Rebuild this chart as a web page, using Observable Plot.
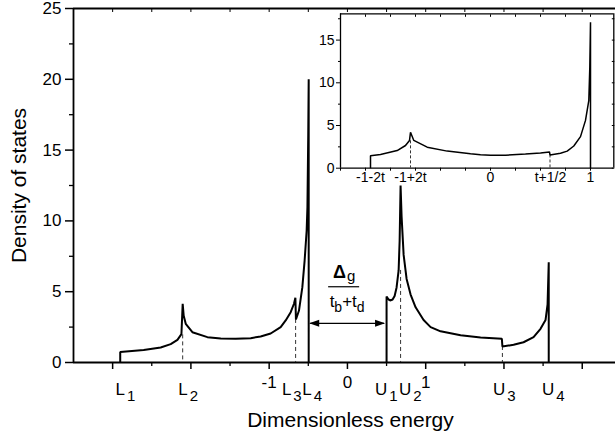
<!DOCTYPE html>
<html><head><meta charset="utf-8">
<script src="https://cdn.jsdelivr.net/npm/d3@7"></script>
<script src="https://cdn.jsdelivr.net/npm/@observablehq/plot@0.6"></script>
<style>
html,body{margin:0;padding:0;background:#fff;}
#wrap{position:relative;width:615px;height:439px;overflow:hidden;background:#fff;}
#inset{position:absolute;left:300px;top:0;}
svg{display:block;}
</style></head><body>
<div id="wrap"><div id="main"></div><div id="inset"></div></div>
<script>
const FONT = "'Liberation Sans', Arial, Helvetica, sans-serif";

// ---- main density of states (dimensionless energy, DOS) ----
const lowerBand = [[-2.903,0],[-2.903,0.75],[-2.603,0.88],[-2.386,1.06],[-2.258,1.3],[-2.172,1.6],[-2.121,2.0],[-2.105,4.15],[-2.092,3.3],[-2.066,2.73],[-1.981,2.14],[-1.789,1.79],[-1.619,1.7],[-1.428,1.67],[-1.236,1.72],[-1.109,1.84],[-0.981,2.05],[-0.853,2.5],[-0.789,2.97],[-0.725,3.55],[-0.683,4.15],[-0.665,4.57],[-0.658,3.04],[-0.619,3.67],[-0.576,5.32],[-0.547,7.2],[-0.521,9.32],[-0.511,11],[-0.501,16],[-0.495,20],[-0.495,0]];
const upperBand = [[0.5,0],[0.5,4.66],[0.526,4.45],[0.552,4.38],[0.577,4.45],[0.603,4.7],[0.628,5.3],[0.654,6.5],[0.667,8.6],[0.679,12.5],[0.692,10.3],[0.718,7.6],[0.756,5.9],[0.807,4.8],[0.871,3.9],[0.973,3.0],[1.063,2.5],[1.19,2.2],[1.446,1.92],[1.701,1.76],[1.973,1.68],[1.98,1.13],[2.123,1.25],[2.25,1.43],[2.378,1.79],[2.467,2.38],[2.531,3.0],[2.557,4.1],[2.572,7.08],[2.572,0]];
const mainDashes = [[-2.105,1.95],[-0.662,3.04],[0.679,6.5],[1.98,1.13]];

// band-edge labels
const bandEdgeX = [-2.903,-2.105,-0.665,-0.495,0.5,0.679,1.976,2.572];
const bandEdgeLetter = ["L","L","L","L","U","U","U","U"];
const bandEdgeIndex = ["1","2","3","4","1","2","3","4"];

// ticks
const xMajorTicks = [-3,-2,-1,0,1,2,3];
const xMinorTicks = [-2.5,-1.5,-0.5,0.5,1.5,2.5];
const xNumberTicks = [-1,0,1];
const yMajorTicks = [0,5,10,15,20,25];
const yMinorTicks = [2.5,7.5,12.5,17.5,22.5];
const xDomain = [-3.5, 3.425];
const yDomain = [0, 25];

// gap annotation
const gapArrowY = 2.73;

// ---- inset ----
const insetCurve = [[-1.2,0],[-1.2,1.45],[-1.1,1.6],[-0.933,2.07],[-0.85,2.66],[-0.81,3.25],[-0.8,4.2],[-0.767,3.25],[-0.633,2.46],[-0.433,2.0],[-0.2,1.69],[-0.1,1.58],[0.0,1.52],[0.15,1.53],[0.35,1.65],[0.5,1.78],[0.59,1.9],[0.595,1.55],[0.7,1.75],[0.767,2.0],[0.833,2.6],[0.9,3.7],[0.95,5.6],[0.983,7.9],[0.993,11.8],[1.0,17.1],[1.0,0]];
const insetDashes = [[-0.8,3.2],[0.595,1.55]];
const insetTickLabels = ["-1-2t","-1+2t","0","t+1/2","1"];
const insetTickValues = [-1.2,-0.8,0,0.6,1];
const insetXTicks = [-1.5,-1.25,-1,-0.75,-0.5,-0.25,0,0.25,0.5,0.75,1];
const insetYMajor = [0,5,10,15];
const insetYMinor = [2.5,7.5,12.5,17.5];
const insetXDomain = [-1.5, 1.233];
const insetYDomain = [0, 18.08];

const labelShift = [-4.3,-4,-13,-6,-11,-1,-8.7,-6.3];

function bandLabels(index, scales, values, dims) {
  const g = d3.create("svg:g").attr("font-family", FONT).attr("fill", "black").attr("text-anchor", "start");
  const base = dims.height - dims.marginBottom;
  bandEdgeX.forEach((x, i) => {
    const t = g.append("text").attr("x", scales.x(x) + labelShift[i]).attr("y", base + 33).attr("font-size", 17).attr("text-anchor", "start");
    t.append("tspan").text(bandEdgeLetter[i]);
    t.append("tspan").attr("font-size", 15).attr("dx", 2).attr("dy", 6).text(bandEdgeIndex[i]);
  });
  return g.node();
}

function gapAnnotation(index, scales, values, dims) {
  const g = d3.create("svg:g").attr("font-family", FONT).attr("fill", "black");
  const x1 = scales.x(bandEdgeX[3]), x2 = scales.x(bandEdgeX[4]);
  const y = scales.y(gapArrowY);
  const mid = (x1 + x2) / 2;
  g.append("line").attr("x1", x1 + 2).attr("x2", x2 - 2).attr("y1", y).attr("y2", y).attr("stroke", "black").attr("stroke-width", 1.3);
  g.append("path").attr("d", `M${x1 + 1},${y}L${x1 + 11},${y - 3.5}L${x1 + 11},${y + 3.5}Z`);
  g.append("path").attr("d", `M${x2 - 1},${y}L${x2 - 11},${y - 3.5}L${x2 - 11},${y + 3.5}Z`);
  const t1 = g.append("text").attr("x", mid - 3).attr("y", y - 45).attr("text-anchor", "middle").attr("font-size", 18);
  t1.append("tspan").attr("font-weight", "bold").text("Δ");
  t1.append("tspan").attr("font-size", 15).attr("dx", 1).attr("dy", 3).text("g");
  g.append("line").attr("x1", mid - 19).attr("x2", mid + 12).attr("y1", y - 36.6).attr("y2", y - 36.6).attr("stroke", "black").attr("stroke-width", 1.2);
  const t2 = g.append("text").attr("x", mid).attr("y", y - 16.6).attr("text-anchor", "middle").attr("font-size", 17);
  t2.append("tspan").text("t");
  t2.append("tspan").attr("font-size", 14).attr("dy", 5).text("b");
  t2.append("tspan").attr("dy", -5).text("+t");
  t2.append("tspan").attr("font-size", 14).attr("dy", 5).text("d");
  return g.node();
}

const main = Plot.plot({
  width: 615, height: 439,
  marginLeft: 73, marginRight: 0, marginTop: 8, marginBottom: 77,
  x: {domain: xDomain},
  y: {domain: yDomain},
  style: {fontFamily: FONT, color: "black", background: "white", overflow: "visible"},
  marks: [
    Plot.axisY({ticks: yMajorTicks, tickSize: 8, tickPadding: 4, fontSize: 17, tickFormat: d => String(d), label: null, strokeWidth: 1.5}),
    Plot.axisY({ticks: yMinorTicks, tickSize: 4, tickFormat: () => "", label: null, strokeWidth: 1.3}),
    Plot.axisX({ticks: xMajorTicks, tickSize: 7, tickFormat: () => "", label: null, strokeWidth: 1.5}),
    Plot.axisX({ticks: xMinorTicks, tickSize: 4, tickFormat: () => "", label: null, strokeWidth: 1.3}),
    Plot.axisX({ticks: xNumberTicks, tickSize: 0, tickPadding: 13, fontSize: 17, tickFormat: d => String(d), label: null}),
    Plot.axisX({anchor: "top", ticks: xMajorTicks.concat(xMinorTicks), tickSize: -3, tickFormat: () => "", label: null}),
    Plot.ruleX([xDomain[0]], {strokeWidth: 1.8}),
    Plot.ruleY([yDomain[0], yDomain[1]], {strokeWidth: 1.8}),
    Plot.ruleX(mainDashes, {x: d => d[0], y1: d => d[1], y2: 0, strokeDasharray: "4,3", strokeWidth: 1, stroke: "#333"}),
    Plot.line(lowerBand, {x: d => d[0], y: d => d[1], strokeWidth: 2, strokeLinejoin: "miter", strokeLinecap: "butt"}),
    Plot.line(upperBand, {x: d => d[0], y: d => d[1], strokeWidth: 2, strokeLinejoin: "miter", strokeLinecap: "butt"}),
    Plot.text(["Density of states"], {frameAnchor: "left", textAnchor: "middle", lineAnchor: "middle", rotate: -90, dx: -54, fontSize: 21}),
    Plot.text(["Dimensionless energy"], {frameAnchor: "bottom", textAnchor: "middle", lineAnchor: "middle", dy: 58, dx: 6, fontSize: 21}),
    bandLabels,
    gapAnnotation
  ]
});
document.getElementById("main").appendChild(main);

const inset = Plot.plot({
  width: 315, height: 200,
  marginLeft: 40, marginRight: 1.7, marginTop: 13.3, marginBottom: 32.3,
  x: {domain: insetXDomain},
  y: {domain: insetYDomain},
  style: {fontFamily: FONT, color: "black", background: "transparent", overflow: "visible"},
  marks: [
    Plot.axisY({ticks: insetYMajor, tickSize: 4, tickPadding: 2, fontSize: 14, tickFormat: d => String(d), label: null}),
    Plot.axisY({ticks: insetYMinor, tickSize: 2, tickFormat: () => "", label: null}),
    Plot.axisY({anchor: "right", ticks: insetYMajor.concat(insetYMinor), tickSize: -2.5, tickFormat: () => "", label: null}),
    Plot.axisX({ticks: insetXTicks, tickSize: 3, tickFormat: () => "", label: null}),
    Plot.axisX({anchor: "top", ticks: insetXTicks, tickSize: -2.5, tickFormat: () => "", label: null}),
    Plot.axisX({ticks: insetTickValues, tickFormat: (d, i) => insetTickLabels[i], tickSize: 0, tickPadding: 4, fontSize: 14, label: null}),
    Plot.ruleX(insetXDomain, {strokeWidth: 1.3}),
    Plot.ruleY(insetYDomain, {strokeWidth: 1.3}),
    Plot.ruleX(insetDashes, {x: d => d[0], y1: d => d[1], y2: 0, strokeDasharray: "3,2", strokeWidth: 1, stroke: "#333"}),
    Plot.line(insetCurve, {x: d => d[0], y: d => d[1], strokeWidth: 1.5, strokeLinejoin: "miter", strokeLinecap: "butt"})
  ]
});
document.getElementById("inset").appendChild(inset);
</script>
</body></html>
